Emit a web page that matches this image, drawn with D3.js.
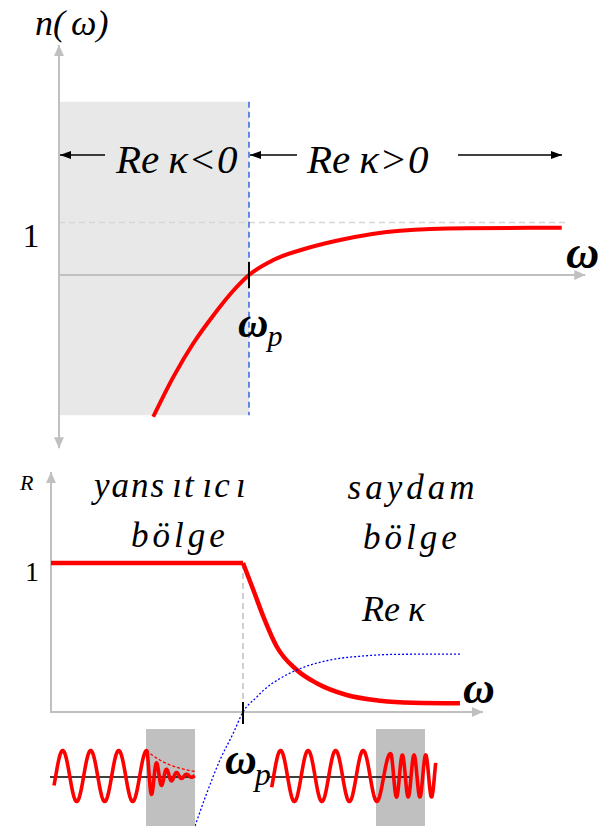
<!DOCTYPE html>
<html>
<head>
<meta charset="utf-8">
<script src="https://cdn.jsdelivr.net/npm/d3@7"></script>
<style>
  body { margin: 0; background: #fff; }
  svg { display: block; }
</style>
</head>
<body>
<svg id="chart" width="612" height="828"></svg>
<script>
// Refractive index n(ω), with ω in units of the plasma frequency ω_p
const omegaN  = [0.496, 0.602, 0.707, 0.812, 0.917, 1.0, 1.128, 1.304, 1.479, 1.795, 2.146, 2.646];
const nValues = [-2.70, -1.94, -1.30, -0.77, -0.30, 0, 0.286, 0.509, 0.667, 0.844, 0.890, 0.900];

// Reflectance R(ω): total reflection below ω_p, then falling off
const omegaR  = [0, 1.0, 1.054, 1.106, 1.176, 1.280, 1.384, 1.540, 1.714, 1.887, 2.130];
const rValues = [1, 1.0, 0.819, 0.640, 0.438, 0.282, 0.193, 0.114, 0.076, 0.062, 0.058];

// Re κ(ω)
const omegaK  = [0.75, 0.811, 0.880, 0.949, 1.0, 1.071, 1.106, 1.193, 1.280, 1.453, 1.627, 1.80, 2.13];
const reKappa = [-0.765, -0.546, -0.322, -0.143, 0, 0.100, 0.145, 0.225, 0.282, 0.349, 0.376, 0.387, 0.389];

// Axis / tick labels
const yTickTop = ["1"];
const yTickBottom = ["1"];
const regionLabelsTop = [["Re", "κ", "<0"], ["Re", "κ", ">0"]];
const regionLabelsBottom = [["yans", "ıt", "ıc", "ı"], ["bölge"], ["saydam"], ["bölge"]];

const svg = d3.select("#chart");
const RED = "#ff0000", AXIS = "#c0c0c0";

// arrow markers
const defs = svg.append("defs");
function marker(id, color, w, h) {
  defs.append("marker")
    .attr("id", id).attr("viewBox", `0 0 ${w} ${h}`)
    .attr("refX", w).attr("refY", h / 2)
    .attr("markerWidth", w).attr("markerHeight", h)
    .attr("markerUnits", "userSpaceOnUse")
    .attr("orient", "auto-start-reverse")
    .append("path").attr("d", `M0,0L${w},${h / 2}L0,${h}Z`).attr("fill", color);
}
marker("axArrow", AXIS, 11, 10);
marker("blkArrow", "#000", 11, 8);

function hline(g, x1, x2, y, opts) {
  const l = g.append("line").attr("x1", x1).attr("x2", x2).attr("y1", y).attr("y2", y);
  Object.entries(opts).forEach(([k, v]) => l.attr(k, v));
  return l;
}
function vline(g, x, y1, y2, opts) {
  const l = g.append("line").attr("x1", x).attr("x2", x).attr("y1", y1).attr("y2", y2);
  Object.entries(opts).forEach(([k, v]) => l.attr(k, v));
  return l;
}
function label(g, x, y, size) {
  return g.append("text").attr("x", x).attr("y", y)
    .style("font-family", "'Liberation Serif'").style("font-size", size + "px").attr("fill", "#000");
}

// ---------------- upper panel: n(ω) ----------------
const xTop = d3.scaleLinear().domain([0, 1]).range([59, 249]);
const yTop = d3.scaleLinear().domain([0, 1]).range([275, 222.5]);
const gTop = svg.append("g");

// Re κ < 0 region
gTop.append("rect")
  .attr("x", xTop(0)).attr("width", xTop(1) - xTop(0))
  .attr("y", yTop(3.3)).attr("height", yTop(-2.67) - yTop(3.3))
  .attr("fill", "#e8e8e8");

// n = 1 reference
hline(gTop, xTop(0), xTop(2.67), yTop(1), { stroke: "#d6d6d6", "stroke-width": 1.4, "stroke-dasharray": "6,4" });

// axes
vline(gTop, xTop(0), yTop(-3.3), yTop(4.38), { stroke: AXIS, "stroke-width": 2, "marker-start": "url(#axArrow)", "marker-end": "url(#axArrow)" });
hline(gTop, xTop(0), xTop(2.77), yTop(0), { stroke: AXIS, "stroke-width": 2, "marker-end": "url(#axArrow)" });

// ω = ω_p boundary
vline(gTop, xTop(1), yTop(3.3), yTop(-2.67), { stroke: "#3d6fe8", "stroke-width": 1.6, "stroke-dasharray": "6,4" });

gTop.append("path")
  .datum(d3.zip(omegaN, nValues))
  .attr("fill", "none").attr("stroke", RED).attr("stroke-width", 4)
  .attr("d", d3.line().x(d => xTop(d[0])).y(d => yTop(d[1])).curve(d3.curveMonotoneX));

vline(gTop, xTop(1), yTop(0.25), yTop(-0.25), { stroke: "#000", "stroke-width": 2 });

// labels
const nl = label(gTop, 35, 35, 36).style("font-style", "italic");
nl.append("tspan").text("n(");
nl.append("tspan").attr("dx", 6).text("ω");
nl.append("tspan").text(")");

label(gTop, 31, yTop(1) + 24, 34).attr("text-anchor", "middle").text(yTickTop[0]);

label(gTop, 566, 268, 46).style("font-weight", "bold").style("font-style", "italic").text("ω");

const wp1 = label(gTop, 238, 337, 42).style("font-style", "italic");
wp1.append("tspan").style("font-weight", "bold").text("ω");
wp1.append("tspan").style("font-size", "30px").attr("dy", 9).attr("dx", -1).text("p");

// region labels with arrows
function reLabel(g, x, y, parts) {
  const t = label(g, x, y, 41).style("font-style", "italic");
  t.append("tspan").text(parts[0]);
  t.append("tspan").attr("dx", 9).text(parts[1]);
  t.append("tspan").attr("dx", 3).style("font-style", "normal").text(parts[2].slice(0, 1));
  t.append("tspan").attr("dx", 3).text(parts[2].slice(1));
  return t;
}
reLabel(gTop, 116, 173, regionLabelsTop[0]);
reLabel(gTop, 307, 173, regionLabelsTop[1]);
hline(gTop, 105, xTop(0) + 1, 155, { stroke: "#000", "stroke-width": 1.5, "marker-end": "url(#blkArrow)" });
hline(gTop, 297, xTop(1) + 1, 155, { stroke: "#000", "stroke-width": 1.5, "marker-end": "url(#blkArrow)" });
hline(gTop, 458, 562, 155, { stroke: "#000", "stroke-width": 1.5, "marker-end": "url(#blkArrow)" });

// ---------------- lower panel: R(ω) ----------------
const xBot = d3.scaleLinear().domain([0, 1]).range([51, 243]);
const yBot = d3.scaleLinear().domain([0, 1]).range([712, 563]);
const gBot = svg.append("g");

vline(gBot, xBot(0), yBot(0), yBot(1.61), { stroke: AXIS, "stroke-width": 2, "marker-end": "url(#axArrow)" });
hline(gBot, xBot(0) - 1, xBot(2.25), yBot(0), { stroke: AXIS, "stroke-width": 2, "marker-end": "url(#axArrow)" });
vline(gBot, xBot(1), yBot(1), yBot(0), { stroke: AXIS, "stroke-width": 1.5, "stroke-dasharray": "6,4" });

const rPts = d3.zip(omegaR, rValues);
gBot.append("path").datum(rPts.slice(0, 2))
  .attr("fill", "none").attr("stroke", RED).attr("stroke-width", 4.5)
  .attr("d", d3.line().x(d => xBot(d[0])).y(d => yBot(d[1])));
gBot.append("path").datum(rPts.slice(1))
  .attr("fill", "none").attr("stroke", RED).attr("stroke-width", 4.5)
  .attr("d", d3.line().x(d => xBot(d[0])).y(d => yBot(d[1])).curve(d3.curveMonotoneX));

gBot.append("path").datum(d3.zip(omegaK, reKappa))
  .attr("fill", "none").attr("stroke", "#0000ff").attr("stroke-width", 1.3).attr("stroke-dasharray", "2,2")
  .attr("d", d3.line().x(d => xBot(d[0])).y(d => yBot(d[1])).curve(d3.curveMonotoneX));

vline(gBot, xBot(1), 702, 724, { stroke: "#000", "stroke-width": 2 });

// labels
label(gBot, 20, 490, 22).style("font-style", "italic").text("R");
label(gBot, 32, yBot(1) + 18, 28).attr("text-anchor", "middle").text(yTickBottom[0]);
label(gBot, 463, 703, 44).style("font-weight", "bold").style("font-style", "italic").text("ω");

const wp2 = label(gBot, 225, 774, 44).style("font-style", "italic");
wp2.append("tspan").style("font-weight", "bold").text("ω");
wp2.append("tspan").style("font-size", "32px").attr("dy", 11).attr("dx", -2).text("p");

const ls = 4;
const y1 = label(gBot, 94, 497, 35).style("font-style", "italic").style("letter-spacing", "2px");
const gaps = [0, 6, 7, 4];
regionLabelsBottom[0].forEach((s, i) => y1.append("tspan").attr("dx", gaps[i]).text(s));
label(gBot, 180, 547, 35).attr("text-anchor", "middle").style("font-style", "italic").style("letter-spacing", ls + "px").text(regionLabelsBottom[1][0]);
label(gBot, 413, 499, 35).attr("text-anchor", "middle").style("font-style", "italic").style("letter-spacing", ls + "px").text(regionLabelsBottom[2][0]);
label(gBot, 412, 549, 35).attr("text-anchor", "middle").style("font-style", "italic").style("letter-spacing", ls + "px").text(regionLabelsBottom[3][0]);
const rk = label(gBot, 362, 621, 36).style("font-style", "italic");
rk.append("tspan").text("Re");
rk.append("tspan").attr("dx", 8).text("κ");

// ---------------- wave sketches ----------------
const waves = svg.append("g");
waves.append("rect").attr("x", 146).attr("y", 729).attr("width", 49).attr("height", 97).attr("fill", "#c0c0c0");
waves.append("rect").attr("x", 376).attr("y", 729).attr("width", 49).attr("height", 97).attr("fill", "#c0c0c0");
hline(waves, 50, 195, 777, { stroke: "#000", "stroke-width": 1.6 });
hline(waves, 267, 412, 777, { stroke: "#000", "stroke-width": 1.6 });

function wave(x0, x1, phase, amp, center) {
  const pts = d3.range(x0, x1 + 0.01, 0.4).map(x => [x, center - amp(x) * Math.sin(2 * Math.PI * phase(x))]);
  waves.append("path").datum(pts)
    .attr("fill", "none").attr("stroke", RED).attr("stroke-width", 3.6).attr("stroke-linejoin", "round")
    .attr("d", d3.line());
}
// incident wave decaying inside the plasma (ω < ω_p)
const phaseL = d3.scaleLinear().domain([55.7, 146.7, 185]).range([0, 3.25, 7.08]);
wave(54, 195, phaseL, x => x <= 146.7 ? 25.5 : 25.5 * Math.exp(-(x - 146.7) / 15), 776);
// envelope
const env = d3.range(146.7, 195.1, 0.5).map(x => [x, 776 - 25.5 * Math.exp(-(x - 146.7) / 28)]);
waves.append("path").datum(env).attr("fill", "none").attr("stroke", RED).attr("stroke-width", 1.3)
  .attr("stroke-dasharray", "3,2").attr("d", d3.line());

// transmitted wave (ω > ω_p)
const phaseR = d3.scaleLinear().domain([273.7, 390.7, 425.7]).range([0, 4.25, 7.25]);
const ampR = d3.scaleLinear().domain([376.7, 396.7]).range([25.5, 21]).clamp(true);
wave(271.7, 435.7, phaseR, ampR, 776);
</script>
</body>
</html>
